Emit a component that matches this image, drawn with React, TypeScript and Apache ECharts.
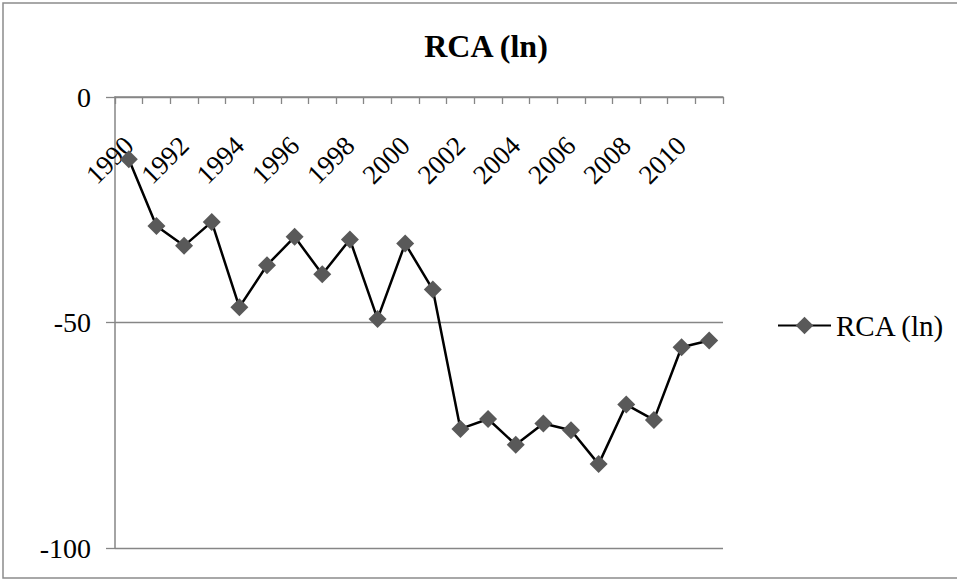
import React, { useEffect, useRef } from "react";
import * as echarts from "echarts";

const years: string[] = [
  "1990", "1991", "1992", "1993", "1994", "1995", "1996", "1997", "1998", "1999", "2000",
  "2001", "2002", "2003", "2004", "2005", "2006", "2007", "2008", "2009", "2010", "2011",
];
const rcaValues: number[] = [
  -13.8, -28.6, -33.0, -27.7, -46.6, -37.3, -31.0, -39.3, -31.6, -49.2, -32.5,
  -42.7, -73.6, -71.4, -77.1, -72.4, -73.9, -81.4, -68.2, -71.6, -55.5, -54.0,
];
const seriesName = "RCA (ln)";
const chartTitle = "RCA (ln)";

const FONT = '"Times New Roman", "Liberation Serif", serif';
const AXIS_GRAY = "#868686";

export default function App() {
  const ref = useRef<HTMLDivElement | null>(null);
  useEffect(() => {
    if (!ref.current) return;
    const chart = echarts.init(ref.current, undefined, { renderer: "svg" });
    chart.setOption({
      animation: false,
      backgroundColor: "#ffffff",
      grid: {
        left: 115,
        top: 97,
        right: 234,
        bottom: 33,
        containLabel: false,
        outerBoundsMode: "none",
      },
      graphic: [
        {
          type: "rect",
          shape: { x: 3, y: 3, width: 1000, height: 575 },
          style: { fill: "none", stroke: "#8c8c8c", lineWidth: 1.5 },
          silent: true,
        },
        {
          type: "text",
          x: 486,
          y: 46,
          style: {
            text: chartTitle,
            fontFamily: FONT,
            fontWeight: "bold",
            fontSize: 32,
            fill: "#000",
            textAlign: "center",
            textVerticalAlign: "middle",
          },
        },
      ],
      legend: {
        left: 772,
        top: 306,
        itemWidth: 53,
        itemHeight: 22,
        textStyle: { fontFamily: FONT, fontSize: 29, color: "#000" },
        data: [seriesName],
      },
      xAxis: {
        type: "category",
        data: years,
        position: "top",
        boundaryGap: true,
        axisLine: { show: true, onZero: false, lineStyle: { color: AXIS_GRAY, width: 1.5 } },
        axisTick: {
          show: true,
          inside: true,
          interval: 0,
          length: 7,
          lineStyle: { color: AXIS_GRAY, width: 1.3 },
        },
        axisLabel: {
          inside: true,
          interval: 1,
          rotate: -45,
          margin: 44,
          align: "right",
          verticalAlign: "middle",
          fontFamily: FONT,
          fontSize: 27,
          color: "#000",
        },
        splitLine: { show: false },
      },
      yAxis: {
        type: "value",
        min: -100,
        max: 0,
        interval: 50,
        axisLine: { show: true, lineStyle: { color: AXIS_GRAY, width: 1.5 } },
        axisTick: { show: true, length: 9, lineStyle: { color: AXIS_GRAY, width: 1.3 } },
        axisLabel: { margin: 24, fontFamily: FONT, fontSize: 28, color: "#000" },
        splitLine: { show: true, lineStyle: { color: AXIS_GRAY, width: 1.3 } },
      },
      series: [
        {
          name: seriesName,
          type: "line",
          data: rcaValues,
          symbol: "diamond",
          symbolSize: 18,
          itemStyle: { color: "#595959" },
          lineStyle: { color: "#000000", width: 2.5 },
        },
      ],
    });
    return () => chart.dispose();
  }, []);
  return (
    <div
      ref={ref}
      style={{ position: "fixed", left: 0, top: 0, width: 957, height: 581 }}
    />
  );
}
